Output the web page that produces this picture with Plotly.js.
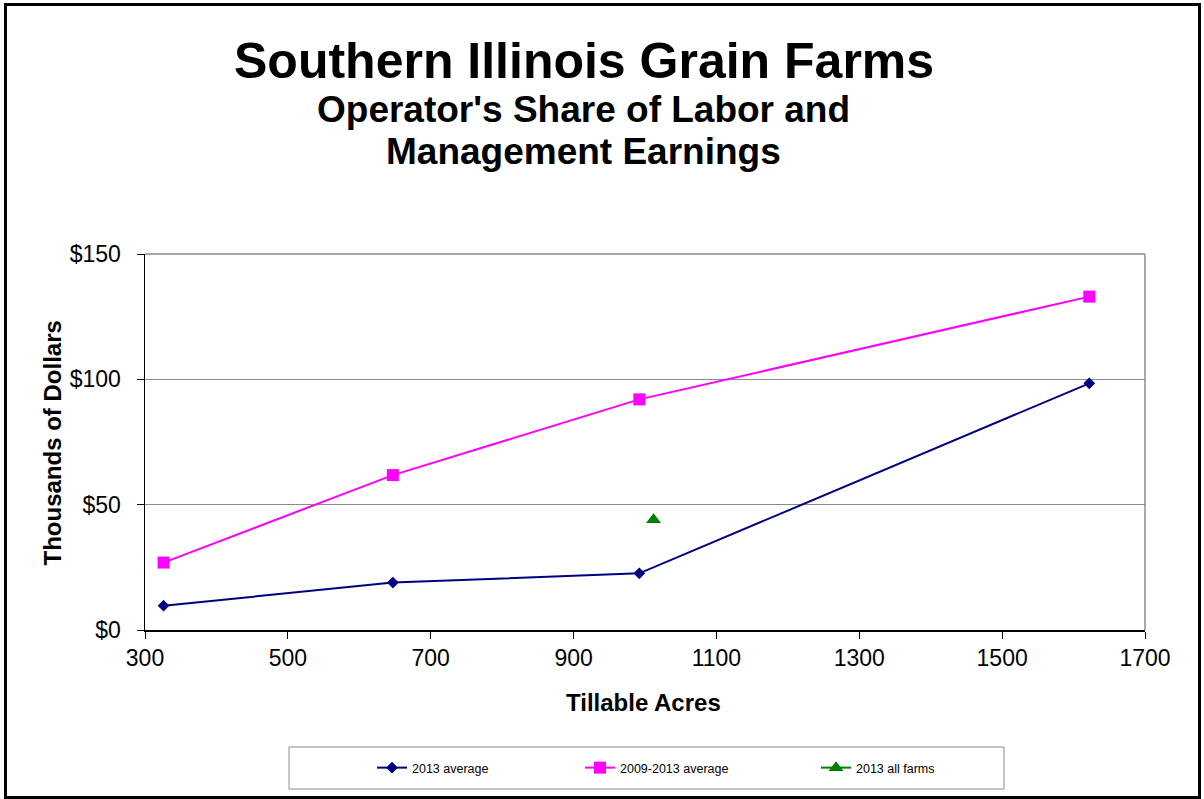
<!DOCTYPE html>
<html>
<head>
<meta charset="utf-8">
<script src="https://cdn.plot.ly/plotly-3.0.1.min.js"></script>
<style>html,body{margin:0;padding:0;background:#fff;}#chart{width:1204px;height:799px;}</style>
</head>
<body>
<div id="chart"></div>
<script>
// Data
const acres = [326, 647, 992, 1622];
const avg2013 = [9.7, 18.9, 22.6, 98.4];
const avg2009_2013 = [26.9, 61.8, 92.0, 133.0];
const allFarmsAcres = [1012];
const allFarms2013 = [44];
const seriesNames = ["2013 average", "2009-2013 average", "2013 all farms"];
const xTicks = [300, 500, 700, 900, 1100, 1300, 1500, 1700];
const yTicks = [0, 50, 100, 150];

// pixel helpers (plot area: x 145..1145, y 254..630)
const L = 145, R = 1145, T = 254, B = 630;
const px = v => (v - L) / (R - L);
const py = v => (B - v) / (B - T);

const font = "Arial, 'Liberation Sans', sans-serif";

const traces = [
  {x: acres, y: avg2013, name: seriesNames[0], mode: "lines+markers", type: "scatter",
   line: {color: "#000080", width: 2}, marker: {symbol: "diamond", size: 9, color: "#000080"},
   legend: "legend"},
  {x: acres, y: avg2009_2013, name: seriesNames[1], mode: "lines+markers", type: "scatter",
   line: {color: "#FF00FF", width: 2}, marker: {symbol: "square", size: 12, color: "#FF00FF"},
   legend: "legend2"},
  {x: allFarmsAcres, y: allFarms2013, name: seriesNames[2], mode: "lines+markers", type: "scatter",
   line: {color: "#008000", width: 2}, marker: {symbol: "triangle-up", size: 13, color: "#008000"},
   legend: "legend3"}
];

const legBase = {orientation: "h", yanchor: "middle", xanchor: "left", y: py(768),
  bgcolor: "rgba(0,0,0,0)", borderwidth: 0, font: {family: font, size: 12.5, color: "#000"}};

const layout = {
  width: 1204, height: 799,
  margin: {l: L, r: 1204 - R, t: T, b: 799 - B, pad: 0},
  paper_bgcolor: "#fff", plot_bgcolor: "#fff",
  font: {family: font, color: "#000"},
  showlegend: true,
  legend: Object.assign({}, legBase, {x: px(372)}),
  legend2: Object.assign({}, legBase, {x: px(580)}),
  legend3: Object.assign({}, legBase, {x: px(816)}),
  xaxis: {range: [300, 1700], tickvals: xTicks, ticktext: xTicks.map(String),
    showgrid: false, zeroline: false, showline: true, linecolor: "#000", linewidth: 1.5,
    ticks: "outside", ticklen: 7, tickcolor: "#000", tickwidth: 1,
    tickfont: {family: font, size: 23, color: "#000"}, fixedrange: true},
  yaxis: {range: [0, 150], tickvals: yTicks, ticktext: yTicks.map(v => "$" + v),
    showgrid: true, gridcolor: "#8c8c8c", gridwidth: 1, zeroline: false,
    showline: true, linecolor: "#000", linewidth: 1.5,
    ticks: "outside", ticklen: 7, tickcolor: "#000", tickwidth: 1, ticklabelstandoff: 11,
    tickfont: {family: font, size: 23, color: "#000"}, fixedrange: true},
  shapes: [
    // outer chart frame
    {type: "rect", xref: "paper", yref: "paper", x0: px(5.5), x1: px(1199.5), y0: py(797.5), y1: py(4.5),
     line: {color: "#000", width: 3}, layer: "below"},
    // top & right plot border
    {type: "line", xref: "paper", yref: "paper", x0: 0, x1: 1, y0: 1, y1: 1, line: {color: "#8c8c8c", width: 1.5}},
    {type: "line", xref: "paper", yref: "paper", x0: 1, x1: 1, y0: 0, y1: 1, line: {color: "#8c8c8c", width: 1.5}},
    // legend box
    {type: "rect", xref: "paper", yref: "paper", x0: px(289), x1: px(1004), y0: py(789), y1: py(747),
     line: {color: "#8c8c8c", width: 1}, layer: "below"}
  ],
  annotations: [
    {text: "<b>Southern Illinois Grain Farms</b>", xref: "paper", yref: "paper", x: px(584), y: py(60.5),
     xanchor: "center", yanchor: "middle", showarrow: false, font: {family: font, size: 50, color: "#000"}},
    {text: "<b>Operator's Share of Labor and</b>", xref: "paper", yref: "paper", x: px(583), y: py(109.5),
     xanchor: "center", yanchor: "middle", showarrow: false, font: {family: font, size: 37, color: "#000"}},
    {text: "<b>Management Earnings</b>", xref: "paper", yref: "paper", x: px(583), y: py(151.5),
     xanchor: "center", yanchor: "middle", showarrow: false, font: {family: font, size: 37, color: "#000"}},
    {text: "<b>Tillable Acres</b>", xref: "paper", yref: "paper", x: px(643), y: py(702),
     xanchor: "center", yanchor: "middle", showarrow: false, font: {family: font, size: 24, color: "#000"}},
    {text: "<b>Thousands of Dollars</b>", xref: "paper", yref: "paper", x: px(52), y: py(443.5), textangle: -90,
     xanchor: "center", yanchor: "middle", showarrow: false, font: {family: font, size: 24, color: "#000"}}
  ]
};

Plotly.newPlot("chart", traces, layout, {displayModeBar: false, staticPlot: true});
</script>
</body>
</html>
